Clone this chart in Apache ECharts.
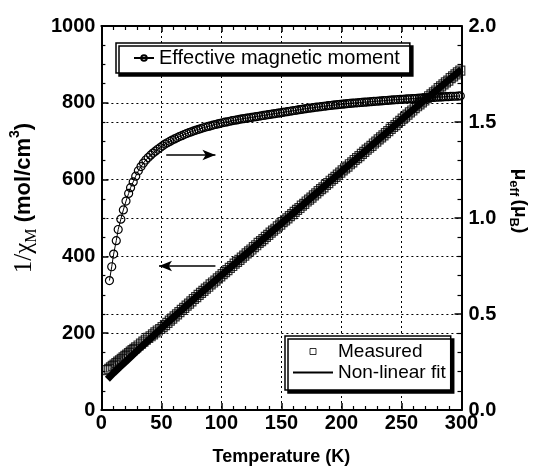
<!DOCTYPE html>
<html><head><meta charset="utf-8">
<script src="https://cdn.jsdelivr.net/npm/echarts@6/dist/echarts.min.js"></script>
<style>html,body{margin:0;padding:0;background:#fff}#c{width:538px;height:471px}</style>
</head><body><div id="c"></div>
<script>
// Effective magnetic moment (right axis, μB)
const muT = [6.7, 8.6, 10.2, 12.4, 14.0, 16.2, 18.3, 20.5, 22.7, 24.3, 26.5, 28.6, 30.8, 33, 35,
  37, 39, 41, 43, 45, 47, 49, 51, 53, 55,
  57, 59, 61, 63, 65, 67, 69, 71, 73, 75,
  77, 79, 81, 83, 85, 87, 89, 91, 93, 95,
  97, 99, 101, 103, 105, 107, 109, 111, 113, 115,
  117, 119, 121, 123, 125, 127, 129, 131, 133, 135,
  137, 139, 141, 143, 145, 147, 149, 151, 153, 155,
  157, 159, 161, 163, 165, 167, 169, 171, 173, 175,
  177, 179, 181, 183, 185, 187, 189, 191, 193, 195,
  197, 199, 201, 203, 205, 207, 209, 211, 213, 215,
  217, 219, 221, 223, 225, 227, 229, 231, 233, 235,
  237, 239, 241, 243, 245, 247, 249, 251, 253, 255,
  257, 259, 261, 263, 265, 267, 269, 271, 273, 275,
  277, 279, 281, 283, 285, 287, 289, 291, 293, 295,
  297, 299];
const muVal = [0.674, 0.746, 0.812, 0.882, 0.940, 0.994, 1.042, 1.088, 1.128, 1.158, 1.188, 1.218, 1.246, 1.268, 1.286,
  1.302, 1.315, 1.327, 1.338, 1.348, 1.358, 1.367, 1.376, 1.385, 1.392,
  1.399, 1.406, 1.412, 1.418, 1.424, 1.429, 1.435, 1.440, 1.445, 1.449,
  1.454, 1.458, 1.462, 1.466, 1.470, 1.474, 1.477, 1.480, 1.484, 1.487,
  1.490, 1.493, 1.496, 1.499, 1.501, 1.504, 1.507, 1.509, 1.511, 1.514,
  1.516, 1.518, 1.520, 1.522, 1.524, 1.526, 1.528, 1.530, 1.532, 1.534,
  1.536, 1.538, 1.540, 1.542, 1.544, 1.546, 1.548, 1.550, 1.552, 1.554,
  1.556, 1.558, 1.560, 1.562, 1.564, 1.566, 1.568, 1.570, 1.572, 1.573,
  1.575, 1.577, 1.578, 1.580, 1.582, 1.583, 1.585, 1.586, 1.588, 1.589,
  1.590, 1.592, 1.593, 1.594, 1.596, 1.597, 1.598, 1.599, 1.600, 1.601,
  1.602, 1.603, 1.604, 1.605, 1.606, 1.607, 1.608, 1.609, 1.610, 1.611,
  1.612, 1.613, 1.614, 1.615, 1.616, 1.617, 1.618, 1.618, 1.619, 1.620,
  1.621, 1.622, 1.622, 1.623, 1.624, 1.625, 1.625, 1.626, 1.627, 1.628,
  1.628, 1.629, 1.630, 1.630, 1.631, 1.632, 1.632, 1.633, 1.634, 1.634,
  1.635, 1.636];
// Measured 1/chi (left axis)
const measT = [5, 6.5, 8, 9.5, 11, 12.5, 14, 15.5, 17, 18.5, 20, 21.5, 23, 24.5, 26, 27.5, 29,
  31, 33, 35, 37, 39, 41, 43, 45, 47, 49,
  51, 53, 55, 57, 59, 61, 63, 65, 67, 69,
  71, 73, 75, 77, 79, 81, 83, 85, 87, 89,
  91, 93, 95, 97, 99, 101, 103, 105, 107, 109,
  111, 113, 115, 117, 119, 121, 123, 125, 127, 129,
  131, 133, 135, 137, 139, 141, 143, 145, 147, 149,
  151, 153, 155, 157, 159, 161, 163, 165, 167, 169,
  171, 173, 175, 177, 179, 181, 183, 185, 187, 189,
  191, 193, 195, 197, 199, 201, 203, 205, 207, 209,
  211, 213, 215, 217, 219, 221, 223, 225, 227, 229,
  231, 233, 235, 237, 239, 241, 243, 245, 247, 249,
  251, 253, 255, 257, 259, 261, 263, 265, 267, 269,
  271, 273, 275, 277, 279, 281, 283, 285, 287, 289,
  291, 293, 295, 297, 299];
const measVal = [104, 107, 111, 115, 118, 122, 126, 129, 133, 137, 141, 144, 148, 152, 156, 159, 163,
  168, 173, 178, 183, 188, 192, 197, 202, 207, 211,
  216, 221, 227, 233, 238, 244, 249, 255, 261, 266,
  272, 277, 283, 289, 294, 300, 305, 310, 316, 321,
  327, 332, 337, 343, 348, 354, 359, 364, 370, 375,
  381, 386, 391, 397, 402, 408, 413, 418, 424, 429,
  435, 440, 445, 451, 456, 462, 467, 472, 478, 483,
  489, 494, 499, 505, 510, 516, 521, 526, 532, 537,
  543, 548, 553, 559, 564, 570, 575, 580, 586, 591,
  597, 602, 607, 613, 618, 624, 629, 634, 640, 645,
  651, 656, 661, 667, 672, 678, 683, 688, 694, 699,
  705, 710, 715, 721, 726, 732, 737, 742, 748, 753,
  759, 764, 769, 775, 780, 786, 791, 796, 801, 806,
  812, 817, 822, 827, 832, 838, 843, 848, 853, 858,
  864, 869, 874, 879, 884];
// Non-linear fit (left axis)
const fitT = [5, 10, 15, 20, 25, 30, 40, 50, 60, 70, 80, 90, 100, 110, 120, 130, 140, 150, 160, 170, 180, 190, 200, 210, 220, 230, 240, 250, 260, 270, 280, 290, 300];
const fitVal = [80, 96, 111, 125, 140, 155, 184, 213, 241, 269, 297, 324, 351, 378, 405, 432, 459, 486, 513, 540, 567, 594, 621, 648, 675, 702, 729, 756, 783, 809, 835, 861, 887];
// annotation arrows [x1, y1, x2, y2] in data units (left axis)
const arrowRight = [54, 664, 95, 664];
const arrowLeft = [95, 375, 48, 375];

const FONT = "'Liberation Sans', Arial, Helvetica, sans-serif";
const SERIF = "'Liberation Serif', 'Times New Roman', serif";
const zip = (a, b) => a.map((v, i) => [v, b[i]]);
const black = '#000';
const axisLine = { show: true, onZero: false, lineStyle: { color: black, width: 2 } };
const split = { show: true, lineStyle: { color: black, width: 1, type: [2, 3] } };
const tickLbl = { color: black, fontFamily: FONT, fontWeight: 'bold', fontSize: 20 };

const chart = echarts.init(document.getElementById('c'), null, { renderer: 'canvas' });
chart.setOption({
  animation: false,
  backgroundColor: '#fff',
  grid: { left: 98, right: 70, top: 26, bottom: 61, containLabel: false },
  xAxis: [
    { type: 'value', min: 0, max: 300, interval: 50, position: 'bottom', axisLine,
      axisTick: { show: true, inside: true, length: 7, lineStyle: { color: black, width: 1.5 } },
      minorTick: { show: true, splitNumber: 5, length: 4, lineStyle: { color: black, width: 1.2 } },
      splitLine: split,
      axisLabel: Object.assign({ margin: 3, formatter: v => String(v) }, tickLbl),
      name: 'Temperature (K)', nameLocation: 'middle', nameGap: 38,
      nameTextStyle: { color: black, fontFamily: FONT, fontWeight: 'bold', fontSize: 18 } },
    { type: 'value', min: 0, max: 300, interval: 50, position: 'top', axisLine,
      axisTick: { show: true, inside: true, length: 6, lineStyle: { color: black, width: 1.5 } },
      minorTick: { show: true, splitNumber: 5, length: 4, lineStyle: { color: black, width: 1.2 } },
      splitLine: { show: false }, axisLabel: { show: false } }
  ],
  yAxis: [
    { type: 'value', min: 0, max: 1000, interval: 200, position: 'left', axisLine,
      axisTick: { show: true, inside: true, length: 7, lineStyle: { color: black, width: 1.5 } },
      minorTick: { show: true, splitNumber: 4, length: 4, lineStyle: { color: black, width: 1.2 } },
      splitLine: split,
      axisLabel: Object.assign({ margin: 6, formatter: v => String(v) }, tickLbl),
      name: '{a|1/χ}{as|M}{b| (mol/cm}{sup|3}{b|)}', nameLocation: 'middle', nameGap: 55,
      nameTextStyle: { padding: [0, 0, 0, 40], rich: {
        a: { fontFamily: SERIF, fontSize: 25, lineHeight: 32, color: black },
        as: { fontFamily: SERIF, fontSize: 16, lineHeight: 12, verticalAlign: 'bottom', color: black },
        b: { fontFamily: FONT, fontWeight: 'bold', fontSize: 22, lineHeight: 32, color: black },
        sup: { fontFamily: FONT, fontWeight: 'bold', fontSize: 14, lineHeight: 14, verticalAlign: 'top', color: black }
      } } },
    { type: 'value', min: 0, max: 2, interval: 0.5, position: 'right', axisLine,
      axisTick: { show: true, inside: true, length: 7, lineStyle: { color: black, width: 1.5 } },
      minorTick: { show: true, splitNumber: 5, length: 4, lineStyle: { color: black, width: 1.2 } },
      splitLine: split,
      axisLabel: Object.assign({ margin: 7, formatter: v => v.toFixed(1) }, tickLbl),
      name: '{m|μ}{s|eff} {m|(μ}{s|B}{m|)}', nameLocation: 'middle', nameGap: 46, nameRotate: -90,
      nameTextStyle: { padding: [0, 34, 0, 0], rich: {
        m: { fontFamily: FONT, fontWeight: 'bold', fontSize: 19, lineHeight: 26, color: black },
        s: { fontFamily: FONT, fontWeight: 'bold', fontSize: 13, lineHeight: 12, verticalAlign: 'bottom', color: black }
      } } }
  ],
  legend: [
    { data: [{ name: 'Effective magnetic moment' }], left: 116, top: 43, orient: 'horizontal',
      itemWidth: 20, itemHeight: 7, padding: [5, 10, 5, 17], selectedMode: false,
      borderColor: black, borderWidth: 1.5, backgroundColor: '#fff',
      shadowColor: black, shadowOffsetX: 3, shadowOffsetY: 3, shadowBlur: 0,
      textStyle: { color: black, fontFamily: FONT, fontSize: 20 } },
    { data: [
        { name: 'Measured', icon: 'path://M0,0L0,0M10,10L10,10M2,2L8,2L8,8L2,8Z',
          itemStyle: { color: 'rgba(0,0,0,0)', borderColor: black, borderWidth: 1 } },
        { name: 'Non-linear fit', itemStyle: { color: 'rgba(0,0,0,0)', borderWidth: 0 } }
      ], left: 285, top: 336, orient: 'vertical',
      itemWidth: 40, itemHeight: 10, itemGap: 2, padding: [6, 5, 8, 7], selectedMode: false,
      borderColor: black, borderWidth: 1.5, backgroundColor: '#fff',
      shadowColor: black, shadowOffsetX: 3, shadowOffsetY: 3, shadowBlur: 0,
      textStyle: { color: black, fontFamily: FONT, fontSize: 19, lineHeight: 18 } }
  ],
  series: [
    { name: 'Effective magnetic moment', type: 'line', xAxisIndex: 0, yAxisIndex: 1,
      data: zip(muT, muVal), symbol: 'circle', symbolSize: 8, showAllSymbol: true,
      itemStyle: { color: 'rgba(255,255,255,0)', borderColor: black, borderWidth: 1.2 },
      lineStyle: { color: black, width: 1 }, z: 3 },
    { name: 'Measured', type: 'scatter', xAxisIndex: 0, yAxisIndex: 0,
      data: zip(measT, measVal), symbol: 'rect', symbolSize: 9,
      itemStyle: { color: 'rgba(255,255,255,0)', borderColor: black, borderWidth: 1.2 }, z: 3 },
    { name: 'Non-linear fit', type: 'line', xAxisIndex: 0, yAxisIndex: 0,
      data: zip(fitT, fitVal), symbol: 'none', smooth: false,
      itemStyle: { color: 'rgba(0,0,0,0)' },
      lineStyle: { color: black, width: 7 }, z: 4,
      markLine: { silent: true, symbol: ['none', 'arrow'], symbolSize: [8, 13], label: { show: false },
        lineStyle: { color: black, width: 1.5, type: 'solid' },
        data: [
          [{ coord: [arrowRight[0], arrowRight[1]] }, { coord: [arrowRight[2], arrowRight[3]] }],
          [{ coord: [arrowLeft[0], arrowLeft[1]] }, { coord: [arrowLeft[2], arrowLeft[3]] }]
        ] } }
  ]
});
</script></body></html>
